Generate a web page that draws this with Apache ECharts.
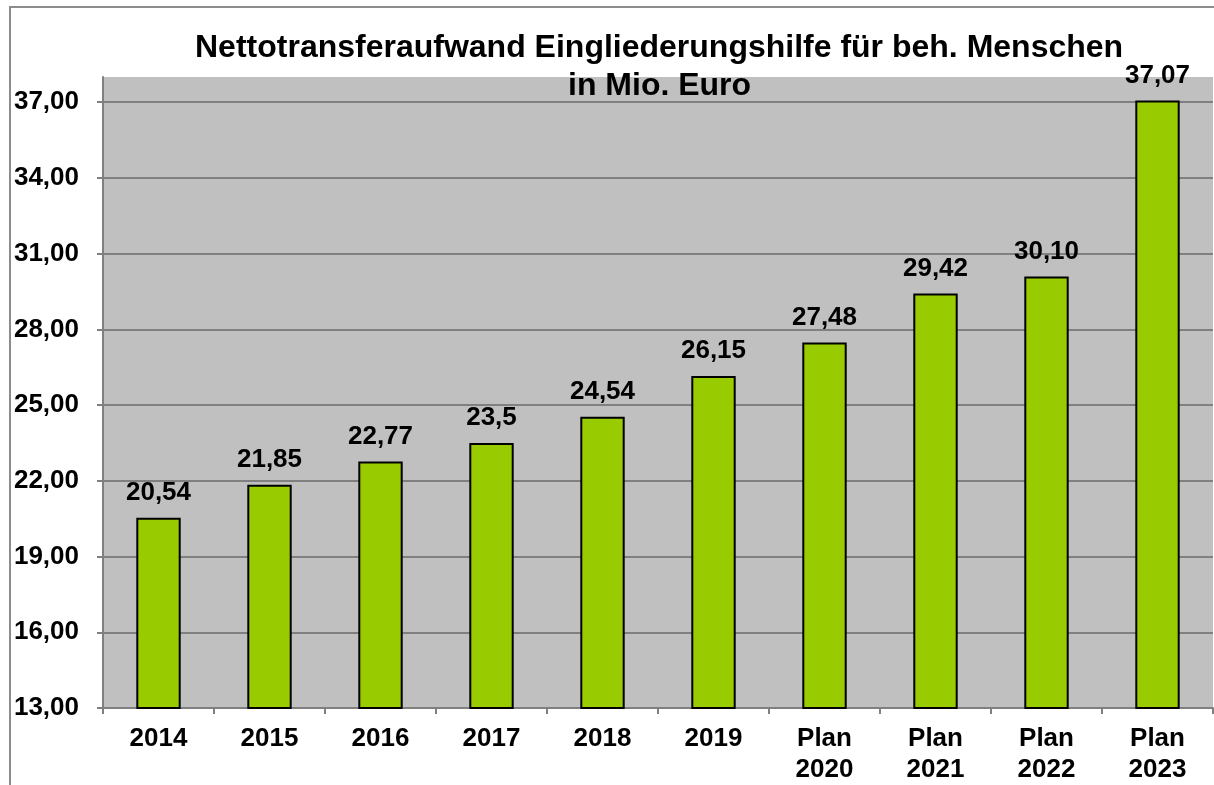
<!DOCTYPE html>
<html>
<head>
<meta charset="utf-8">
<script src="https://cdn.jsdelivr.net/npm/echarts@6/dist/echarts.min.js"></script>
<style>
  html, body { margin: 0; padding: 0; background: #fff; }
  #chart { width: 1214px; height: 785px; }
</style>
</head>
<body>
<div id="chart"></div>
<script>
var categories = ['2014', '2015', '2016', '2017', '2018', '2019', 'Plan\n2020', 'Plan\n2021', 'Plan\n2022', 'Plan\n2023'];
var values = [20.54, 21.85, 22.77, 23.5, 24.54, 26.15, 27.48, 29.42, 30.10, 37.07];
var valueLabels = ['20,54', '21,85', '22,77', '23,5', '24,54', '26,15', '27,48', '29,42', '30,10', '37,07'];

var font = '"Liberation Sans", Arial, sans-serif';

var myChart = echarts.init(document.getElementById('chart'));

var option = {
  animation: false,
  graphic: [{
    type: 'rect',
    shape: { x: 10, y: 7, width: 1400, height: 1000 },
    style: { fill: 'none', stroke: '#8c8c8c', lineWidth: 2 },
    z: -10
  }],
  title: [{
    text: 'Nettotransferaufwand Eingliederungshilfe für beh. Menschen',
    left: 195,
    top: 32,
    padding: 0,
    textStyle: { fontFamily: font, fontSize: 32, fontWeight: 'bold', color: '#000' }
  }, {
    text: 'in Mio. Euro',
    left: 568,
    top: 70,
    padding: 0,
    textStyle: { fontFamily: font, fontSize: 32, fontWeight: 'bold', color: '#000' }
  }],
  grid: {
    left: 103,
    right: 1,
    top: 77,
    bottom: 76,
    show: true,
    backgroundColor: '#c0c0c0',
    borderWidth: 0
  },
  xAxis: {
    type: 'category',
    data: categories,
    axisLine: { lineStyle: { color: '#808080', width: 2 } },
    axisTick: { show: true, length: 6, lineStyle: { color: '#808080', width: 2 } },
    axisLabel: {
      fontFamily: font, fontSize: 26, fontWeight: 'bold', color: '#000',
      lineHeight: 31, margin: 15, interval: 0
    }
  },
  yAxis: {
    type: 'value',
    min: 13,
    max: 38,
    interval: 3,
    axisLine: { show: true, lineStyle: { color: '#808080', width: 2 } },
    axisTick: { show: true, length: 6, lineStyle: { color: '#808080', width: 2 } },
    splitLine: { show: true, showMaxLine: false, lineStyle: { color: '#808080', width: 2 } },
    axisLabel: {
      fontFamily: font, fontSize: 26, fontWeight: 'bold', color: '#000',
      margin: 24, showMaxLabel: false,
      formatter: function (v) { return v.toFixed(2).replace('.', ','); }
    }
  },
  series: [{
    type: 'bar',
    data: values,
    barWidth: '40%',
    itemStyle: { color: '#99cc00', borderColor: '#000', borderWidth: 2 },
    label: {
      show: true,
      position: 'top',
      distance: 12,
      fontFamily: font, fontSize: 26, fontWeight: 'bold', color: '#000',
      formatter: function (p) { return valueLabels[p.dataIndex]; }
    }
  }]
};

myChart.setOption(option);
</script>
</body>
</html>
